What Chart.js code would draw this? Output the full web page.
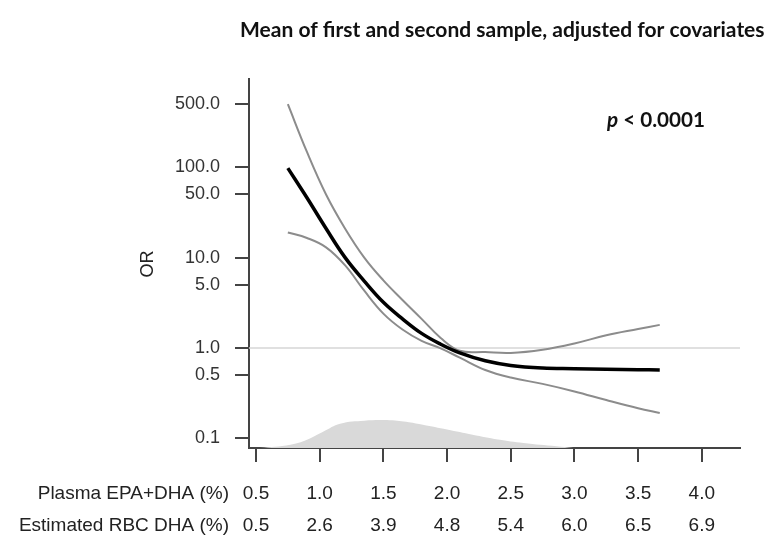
<!DOCTYPE html>
<html><head><meta charset="utf-8">
<script src="https://cdn.jsdelivr.net/npm/chart.js@4.4.1/dist/chart.umd.min.js"></script>
<style>html,body{margin:0;padding:0;background:#fff;} canvas{display:block;}</style>
</head><body>
<canvas id="c" width="773" height="538"></canvas>
<script>
// ---- data ----
const xGrid       = [0.75, 0.9, 1.05, 1.2, 1.35, 1.5, 1.65, 1.8, 1.95, 2.1, 2.3, 2.5, 2.75, 3.0, 3.25, 3.5, 3.67];
const estimateOR  = [98, 46, 21, 10, 5.5, 3.2, 2.1, 1.45, 1.1, 0.88, 0.72, 0.64, 0.60, 0.59, 0.58, 0.575, 0.57];
const upperOR     = [500, 148, 50, 20.9, 10, 5.6, 3.4, 2.1, 1.29, 0.93, 0.90, 0.88, 0.955, 1.12, 1.38, 1.62, 1.8];
const lowerOR     = [19, 16.5, 13, 8.2, 4.3, 2.4, 1.6, 1.2, 0.99, 0.78, 0.57, 0.47, 0.40, 0.33, 0.265, 0.215, 0.19];
const densityX    = [0.53, 0.77, 0.9, 1.03, 1.16, 1.35, 1.55, 1.7, 1.81, 2.0, 2.2, 2.4, 2.6, 2.86, 2.99];
const densityVal  = [0, 0.9, 2.25, 4.5, 6.6, 7.4, 7.5, 7.0, 6.3, 5.0, 3.6, 2.3, 1.35, 0.45, 0];
const xTickValues = [0.5, 1.0, 1.5, 2.0, 2.5, 3.0, 3.5, 4.0];
const plasmaLabels = ['0.5', '1.0', '1.5', '2.0', '2.5', '3.0', '3.5', '4.0'];
const rbcLabels    = ['0.5', '2.6', '3.9', '4.8', '5.4', '6.0', '6.5', '6.9'];
const yTickValues  = [0.1, 0.5, 1, 5, 10, 50, 100, 500];
const referenceOR  = 1;
const titleText = 'Mean of first and second sample, adjusted for covariates';
const pLetter = 'p';
const pRest = ' < 0.0001';
const yTitle = 'OR';
const rowNames = ['Plasma EPA+DHA (%)', 'Estimated RBC DHA (%)'];

// ---- styling ----
const AXIS = '#444';
const TICK_LEN = 14;
const X_PAD = 16;
const X_LINE = 32;
const X_FONT = 19;
const LABEL_FONT = 'Liberation Sans, Arial, sans-serif';

const pts = (xs, ys) => xs.map((x, i) => ({x: x, y: ys[i]}));

const decor = {
  id: 'decor',
  beforeDatasetsDraw(chart) {
    const {ctx, chartArea, scales} = chart;
    const y = scales.y.getPixelForValue(referenceOR);
    ctx.save();
    ctx.strokeStyle = '#d6d6d6';
    ctx.lineWidth = 1.5;
    ctx.beginPath();
    ctx.moveTo(chartArea.left, y);
    ctx.lineTo(chartArea.right, y);
    ctx.stroke();
    ctx.restore();
  },
  afterDraw(chart) {
    const {ctx, chartArea, scales} = chart;
    ctx.save();
    // title
    ctx.fillStyle = '#111';
    ctx.textBaseline = 'middle';
    ctx.textAlign = 'left';
    let size = 17;
    ctx.font = 'bold ' + size + 'px Lato, "Open Sans", sans-serif';
    let w = ctx.measureText(titleText).width;
    size = size * 525 / w;
    ctx.font = 'bold ' + size.toFixed(2) + 'px Lato, "Open Sans", sans-serif';
    ctx.fillText(titleText, 240, 30);
    // p value
    const pf = 'px Lato, "Open Sans", sans-serif';
    let ps = 18;
    ctx.font = 'italic bold ' + ps + pf;
    const wp = ctx.measureText(pLetter).width;
    ctx.font = 'bold ' + ps + pf;
    const wr = ctx.measureText(pRest).width;
    ps = ps * 98 / (wp + wr);
    ctx.font = 'italic bold ' + ps.toFixed(2) + pf;
    const wp2 = ctx.measureText(pLetter).width;
    ctx.fillText(pLetter, 607, 120);
    ctx.font = 'bold ' + ps.toFixed(2) + pf;
    ctx.fillText(pRest, 607 + wp2, 120);
    // OR label
    ctx.fillStyle = '#222';
    ctx.font = '18px ' + LABEL_FONT;
    ctx.translate(148, 264);
    ctx.rotate(-Math.PI / 2);
    ctx.textAlign = 'center';
    ctx.fillText(yTitle, 0, 0);
    ctx.restore();
    // row names
    ctx.save();
    ctx.fillStyle = '#222';
    ctx.font = X_FONT + 'px ' + LABEL_FONT;
    ctx.textAlign = 'right';
    ctx.textBaseline = 'middle';
    const y0 = scales.x.top + TICK_LEN + X_PAD + X_LINE / 2;
    rowNames.forEach((t, i) => ctx.fillText(t, chartArea.left - 20, y0 + i * X_LINE));
    ctx.restore();
  }
};

new Chart(document.getElementById('c'), {
  type: 'line',
  data: {
    datasets: [
      {data: pts(xGrid, estimateOR), borderColor: '#000', borderWidth: 3.5, pointRadius: 0, tension: 0.4, fill: false, yAxisID: 'y'},
      {data: pts(xGrid, upperOR), borderColor: '#8c8c8c', borderWidth: 2, pointRadius: 0, tension: 0.4, fill: false, yAxisID: 'y'},
      {data: pts(xGrid, lowerOR), borderColor: '#8c8c8c', borderWidth: 2, pointRadius: 0, tension: 0.4, fill: false, yAxisID: 'y'},
      {data: pts(densityX, densityVal), borderWidth: 0, borderColor: 'rgba(0,0,0,0)', backgroundColor: '#d9d9d9', pointRadius: 0, tension: 0.4, fill: 'origin', yAxisID: 'yd'}
    ]
  },
  options: {
    responsive: false,
    animation: false,
    devicePixelRatio: 1,
    layout: {padding: {top: 79, right: 33, bottom: 0, left: 0}},
    plugins: {legend: {display: false}, tooltip: {enabled: false}, title: {display: false}},
    scales: {
      x: {
        type: 'linear', min: 0.445, max: 4.3, position: 'bottom',
        afterBuildTicks: s => { s.ticks = xTickValues.map(v => ({value: v})); },
        afterFit: s => { s.height = 90; },
        grid: {drawOnChartArea: false, drawTicks: true, tickLength: TICK_LEN, color: AXIS, lineWidth: 2},
        border: {display: true, color: AXIS, width: 2},
        ticks: {
          autoSkip: false, maxRotation: 0, minRotation: 0, padding: X_PAD, color: '#222',
          font: {family: LABEL_FONT, size: X_FONT, lineHeight: X_LINE / X_FONT},
          callback: (v, i) => [plasmaLabels[i], rbcLabels[i]]
        }
      },
      y: {
        type: 'logarithmic', min: 0.078, max: 950, position: 'left',
        afterBuildTicks: s => { s.ticks = yTickValues.map(v => ({value: v})); },
        afterFit: s => { s.width = 249; },
        grid: {drawOnChartArea: false, drawTicks: true, tickLength: TICK_LEN, color: AXIS, lineWidth: 2},
        border: {display: true, color: AXIS, width: 2},
        ticks: {
          autoSkip: false, padding: 15, color: '#333',
          font: {family: LABEL_FONT, size: 18},
          callback: v => Number(v).toFixed(1)
        }
      },
      yd: {type: 'linear', min: 0, max: 100, display: false}
    }
  },
  plugins: [decor]
});
</script>
</body></html>
